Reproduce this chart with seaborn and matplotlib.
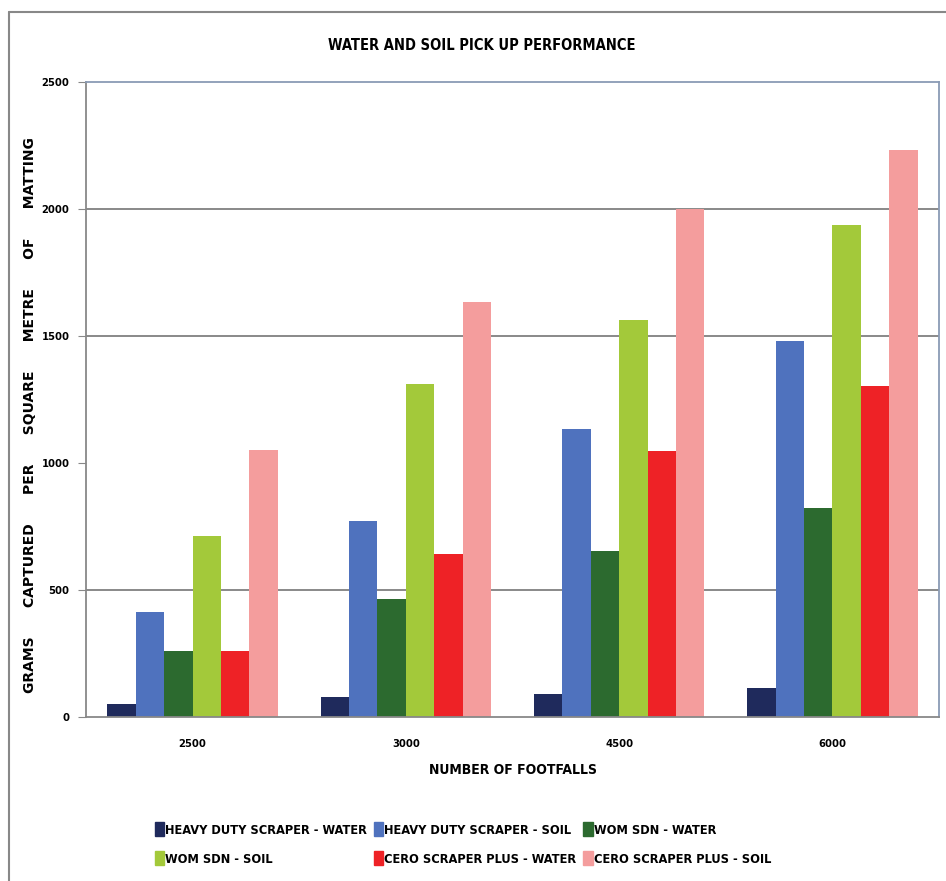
import matplotlib
matplotlib.use("Agg")
import matplotlib.pyplot as plt
import matplotlib.patches as mpatches
from matplotlib.lines import Line2D
import seaborn as sns
import pandas as pd

footfalls = ["2500", "3000", "4500", "6000"]
series = ["HEAVY DUTY SCRAPER - WATER", "HEAVY DUTY SCRAPER - SOIL",
          "WOM SDN - WATER", "WOM SDN - SOIL",
          "CERO SCRAPER PLUS - WATER", "CERO SCRAPER PLUS - SOIL"]
hd_water = [50, 80, 90, 115]
hd_soil = [415, 770, 1135, 1480]
wom_water = [258, 465, 655, 822]
wom_soil = [712, 1310, 1562, 1938]
cero_water = [258, 643, 1048, 1302]
cero_soil = [1052, 1635, 2000, 2232]
colors = ["#1f2a5c", "#4f72be", "#2c6a2f", "#a3c93a", "#ee2226", "#f49d9d"]
y_ticks = [0, 500, 1000, 1500, 2000, 2500]

values = [hd_water, hd_soil, wom_water, wom_soil, cero_water, cero_soil]
rows = []
for s, vals in zip(series, values):
    for f, v in zip(footfalls, vals):
        rows.append({"footfalls": f, "series": s, "value": v})
df = pd.DataFrame(rows)

sns.set_theme(style="white")
fam = ["DejaVu Sans"]
plt.rcParams["font.family"] = fam
plt.rcParams["font.weight"] = "bold"
plt.rcParams["font.stretch"] = "condensed"
plt.rcParams["text.color"] = "black"
plt.rcParams["axes.labelcolor"] = "black"
plt.rcParams["xtick.color"] = "black"
plt.rcParams["ytick.color"] = "black"

fig = plt.figure(figsize=(9.46, 8.81), dpi=100)
W, H = 946, 881
ax = fig.add_axes([86 / W, 1 - 717 / H, (939 - 86) / W, (717 - 82) / H])

sns.barplot(data=df, x="footfalls", y="value", hue="series", order=footfalls,
            hue_order=series, palette=colors, width=0.8, gap=0,
            saturation=1, ax=ax, legend=False, linewidth=0)

ax.set_ylim(0, 2500)
ax.set_xlim(-0.5, 3.5)
ax.set_yticks(y_ticks)
ax.set_yticklabels([str(t) for t in y_ticks], fontsize=8, fontweight="bold")
ax.set_xticks(range(len(footfalls)))
ax.set_xticklabels(footfalls, fontsize=8, fontweight="bold")
ax.set_xticks([-0.5, 0.5, 1.5, 2.5, 3.5], minor=True)
ax.tick_params(axis="x", which="major", length=0, pad=16)
ax.tick_params(axis="x", which="minor", length=5, width=0.8, color="#888888", direction="out")
ax.tick_params(axis="y", length=6, width=0.8, color="#888888", direction="out", left=True, pad=6)

for y in [500, 1500, 2000]:
    ax.axhline(y, color="#808080", linewidth=1.3, zorder=0)
ax.set_axisbelow(True)

for side in ["left", "bottom"]:
    ax.spines[side].set_color("#888888")
    ax.spines[side].set_linewidth(1.3)
for side in ["top", "right"]:
    ax.spines[side].set_color("#8a9bb5")
    ax.spines[side].set_linewidth(1.3)

ax.set_xlabel("NUMBER OF FOOTFALLS", fontsize=10, fontweight="bold", labelpad=10)
ax.set_ylabel("GRAMS      CAPTURED      PER      SQUARE      METRE      OF      MATTING",
              fontsize=10, fontweight="bold", fontstretch="normal")
ax.yaxis.set_label_coords(-0.058, 0.476)
fig.text(482 / W, 1 - 45 / H, "WATER AND SOIL PICK UP PERFORMANCE",
         ha="center", va="center", fontsize=10.5, fontweight="bold")

handles = [mpatches.Patch(color=c, label=s) for c, s in zip(colors, series)]
order = [0, 3, 1, 4, 2, 5]
leg = fig.legend([handles[i] for i in order], [series[i] for i in order],
                 ncol=3, loc="center left", bbox_to_anchor=(143 / W, 1 - 844 / H),
                 frameon=False, handlelength=0.75, handleheight=1.3,
                 handletextpad=0.1, columnspacing=0.5, labelspacing=1.15,
                 prop={"family": fam, "weight": "bold", "size": 9.2, "stretch": "condensed"})

fig.add_artist(Line2D([9 / W, 9 / W], [0, 1 - 12 / H], color="#888888", linewidth=1.5))
fig.add_artist(Line2D([9 / W, 1], [1 - 12 / H, 1 - 12 / H], color="#888888", linewidth=1.5))

fig.savefig("out.png", dpi=100)
